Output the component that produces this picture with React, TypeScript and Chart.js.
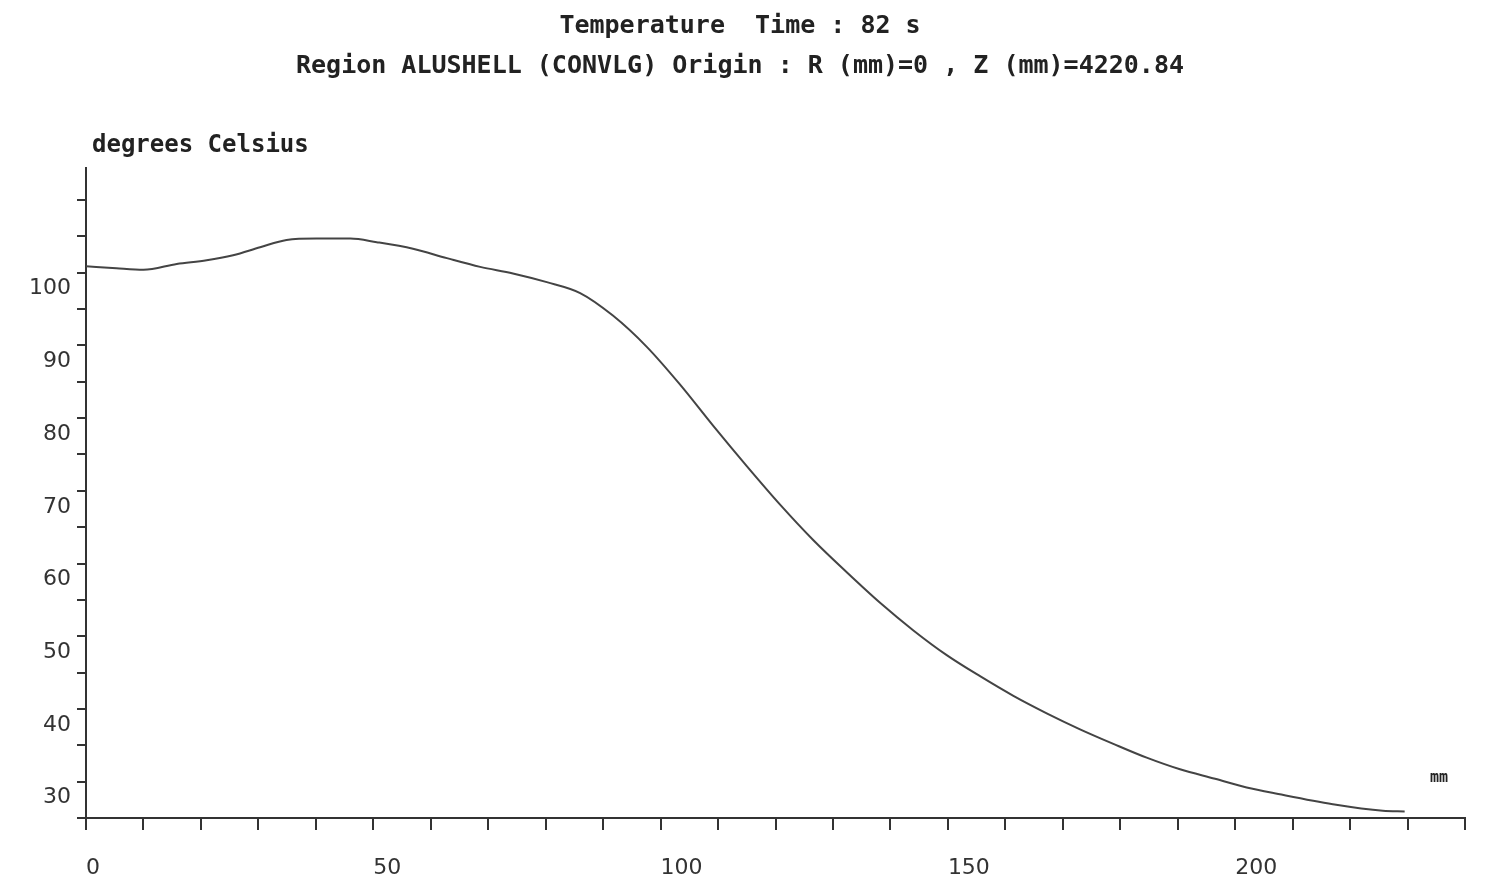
import React, { useEffect, useRef } from "react";
import { Chart, registerables } from "chart.js";

Chart.register(...registerables);

const TITLE_LINES = ["Temperature  Time : 82 s", "Region ALUSHELL (CONVLG) Origin : R (mm)=0 , Z (mm)=4220.84"];
const Y_UNIT = "degrees Celsius";
const X_UNIT = "mm";

const X_MM = [0, 5.3, 10, 15.8, 21, 25.6, 30.3, 34.9, 40.1, 46, 50.6, 56.9, 62.8, 68.6, 74.3, 80.2, 86, 91.7, 97.6, 103.4, 109.1, 115, 120.8, 126.6, 132.4, 138.2, 144, 149.8, 155.6, 161.4, 167.2, 173, 178.8, 184.6, 190.4, 196.5, 202, 207.5, 217, 225.7, 229.5];
const TEMP_C = [100.9, 100.6, 100.4, 101.2, 101.7, 102.4, 103.5, 104.5, 104.7, 104.7, 104.2, 103.3, 102.0, 100.8, 99.9, 98.7, 97.2, 94.1, 89.8, 84.6, 79.0, 73.4, 68.1, 63.2, 58.8, 54.6, 50.8, 47.4, 44.5, 41.8, 39.4, 37.2, 35.2, 33.3, 31.7, 30.4, 29.2, 28.3, 26.9, 26.0, 25.9];

const Y_TICKS = [25, 30, 35, 40, 45, 50, 55, 60, 65, 70, 75, 80, 85, 90, 95, 100, 105, 110];
const Y_LABELED = [30, 40, 50, 60, 70, 80, 90, 100];
const X_TICKS = [0, 10, 20, 30, 40, 50, 60, 70, 80, 90, 100, 110, 120, 130, 140, 150, 160, 170, 180, 190, 200, 210, 220, 230, 240];
const X_LABELED = [0, 50, 100, 150, 200];

const textPlugin = {
  id: "textPlugin",
  afterDraw(chart: any) {
    const ctx = chart.ctx;
    const area = chart.chartArea;
    ctx.save();
    ctx.fillStyle = "#222";
    ctx.textBaseline = "middle";
    ctx.textAlign = "center";
    ctx.font = "bold 25px 'DejaVu Sans Mono'";
    ctx.fillText(TITLE_LINES[0], 732, 18);
    ctx.fillText(TITLE_LINES[1], 732, 58);
    ctx.textAlign = "left";
    ctx.font = "bold 24px 'DejaVu Sans Mono'";
    ctx.fillText(Y_UNIT, area.left + 6, 138);
    ctx.font = "bold 15px 'DejaVu Sans Mono'";
    ctx.fillText(X_UNIT, area.right - 35, 770);
    ctx.restore();
  },
};

export default function App() {
  const ref = useRef<HTMLCanvasElement>(null);
  useEffect(() => {
    if (!ref.current) return;
    const chart = new Chart(ref.current, {
      type: "line",
      data: {
        datasets: [
          {
            data: X_MM.map((x, i) => ({ x, y: TEMP_C[i] })),
            borderColor: "#444",
            borderWidth: 2,
            pointRadius: 0,
            cubicInterpolationMode: "monotone",
            fill: false,
          },
        ],
      },
      options: {
        animation: false,
        responsive: true,
        maintainAspectRatio: false,
        layout: { padding: { top: 160, right: 19, left: 0, bottom: 0 } },
        plugins: { legend: { display: false }, title: { display: false }, tooltip: { enabled: false } },
        scales: {
          x: {
            type: "linear",
            min: 0,
            max: 240,
            afterBuildTicks: (s: any) => {
              s.ticks = X_TICKS.map((v) => ({ value: v }));
            },
            afterFit: (s: any) => {
              s.height = 66;
              s.paddingLeft = 0;
              s.paddingRight = 0;
            },
            ticks: {
              align: "start",
              padding: 25,
              maxRotation: 0,
              autoSkip: false,
              color: "#333",
              font: { family: "'DejaVu Sans'", size: 22 },
              callback: (v: any) => (X_LABELED.includes(Number(v)) ? String(v) : ""),
            },
            grid: { drawOnChartArea: false, drawTicks: true, tickLength: 12, color: "#333", lineWidth: 2 },
            border: { display: true, color: "#333", width: 2 },
          },
          y: {
            type: "linear",
            min: 25,
            max: 114.4,
            afterBuildTicks: (s: any) => {
              s.ticks = Y_TICKS.map((v) => ({ value: v }));
            },
            afterFit: (s: any) => {
              s.width = 78;
              s.paddingTop = 0;
              s.paddingBottom = 0;
            },
            ticks: {
              padding: 6,
              labelOffset: 16,
              autoSkip: false,
              color: "#333",
              font: { family: "'DejaVu Sans'", size: 22 },
              callback: (v: any) => (Y_LABELED.includes(Number(v)) ? String(v) : ""),
            },
            grid: { drawOnChartArea: false, drawTicks: true, tickLength: 9, color: "#333", lineWidth: 2 },
            border: { display: true, color: "#333", width: 2 },
          },
        },
      },
      plugins: [textPlugin],
    } as any);
    return () => chart.destroy();
  }, []);
  return (
    <div style={{ width: 1476, height: 876, position: "relative" }}>
      <canvas ref={ref} />
    </div>
  );
}
